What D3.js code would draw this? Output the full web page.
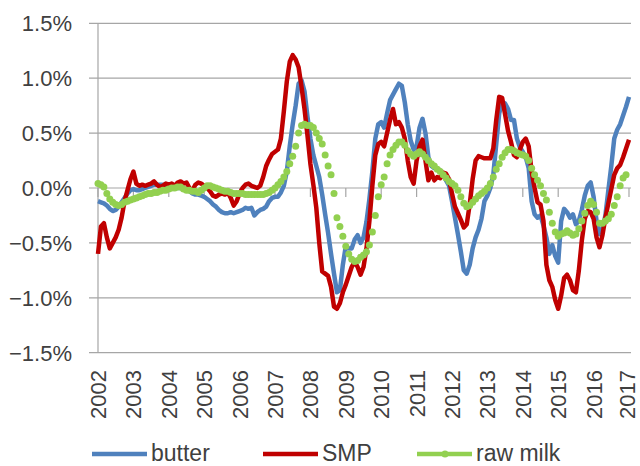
<!DOCTYPE html>
<html><head><meta charset="utf-8">
<script src="https://cdn.jsdelivr.net/npm/d3@7"></script>
<style>html,body{margin:0;padding:0;background:#fff;}svg{display:block;font-family:"Liberation Sans",Arial,sans-serif;}</style>
</head><body><svg id="c" width="640" height="466"></svg>
<script>
const yearLabels = ["2002","2003","2004","2005","2006","2007","2008","2009","2010","2011","2012","2013","2014","2015","2016","2017"];
const yTicks = [-1.5,-1.0,-0.5,0.0,0.5,1.0,1.5];
const seriesNames = ["butter","SMP","raw milk"];
const butter = [
-0.12,-0.13,-0.14,-0.16,-0.19,-0.21,-0.20,-0.17,-0.13,-0.09,-0.05,-0.02,
-0.01,-0.02,-0.02,-0.01,0.00,0.01,0.02,0.03,0.03,0.03,0.03,0.02,
0.02,0.02,0.01,0.00,0.00,-0.01,-0.01,-0.03,-0.05,-0.06,-0.06,-0.07,
-0.08,-0.10,-0.12,-0.15,-0.17,-0.20,-0.22,-0.23,-0.23,-0.22,-0.23,-0.22,
-0.21,-0.20,-0.18,-0.19,-0.18,-0.25,-0.22,-0.20,-0.19,-0.17,-0.12,-0.09,
-0.08,-0.08,-0.04,0.02,0.15,0.38,0.58,0.75,0.95,0.98,0.88,0.65,
0.45,0.30,0.20,0.10,-0.06,-0.24,-0.41,-0.60,-0.78,-0.95,-0.93,-0.70,
-0.53,-0.55,-0.55,-0.47,-0.43,-0.50,-0.45,-0.31,-0.10,0.15,0.45,0.58,
0.60,0.55,0.68,0.80,0.85,0.90,0.95,0.93,0.78,0.58,0.43,0.35,
0.38,0.55,0.63,0.50,0.28,0.20,0.18,0.18,0.16,0.12,0.07,0.02,
-0.12,-0.27,-0.42,-0.58,-0.75,-0.78,-0.70,-0.55,-0.45,-0.38,-0.28,-0.12,
-0.07,0.00,0.12,0.40,0.68,0.78,0.77,0.72,0.62,0.62,0.45,0.37,
0.33,0.28,0.18,-0.12,-0.24,-0.27,-0.25,-0.34,-0.45,-0.60,-0.52,-0.62,
-0.68,-0.30,-0.19,-0.22,-0.27,-0.24,-0.33,-0.30,-0.20,-0.07,0.02,0.05,
-0.08,-0.30,-0.42,-0.37,-0.25,-0.02,0.20,0.45,0.53,0.58,0.66,0.74,
0.83];
const smp = [
-0.60,-0.35,-0.32,-0.45,-0.55,-0.50,-0.45,-0.38,-0.27,-0.12,-0.02,0.08,
0.15,0.04,0.02,0.03,0.02,0.03,0.04,0.06,0.03,0.01,0.02,0.04,
0.03,0.04,0.02,0.05,0.06,0.04,0.05,0.00,-0.02,0.03,0.05,0.04,
0.02,0.00,-0.03,-0.07,-0.08,-0.06,-0.05,-0.06,-0.04,-0.09,-0.16,-0.12,
-0.05,0.00,0.03,0.04,0.02,0.01,0.00,0.02,0.10,0.20,0.26,0.31,
0.33,0.35,0.45,0.70,0.97,1.15,1.21,1.17,1.10,0.92,0.72,0.48,
0.22,0.03,-0.18,-0.50,-0.76,-0.78,-0.80,-0.90,-1.08,-1.10,-1.05,-0.95,
-0.88,-0.80,-0.72,-0.67,-0.72,-0.79,-0.72,-0.55,-0.30,0.02,0.30,0.40,
0.42,0.38,0.50,0.62,0.72,0.58,0.60,0.55,0.45,0.25,0.10,0.04,
0.25,0.38,0.44,0.25,0.07,0.14,0.07,0.10,0.09,0.14,0.13,0.08,
-0.05,-0.17,-0.23,-0.29,-0.36,-0.33,-0.15,0.08,0.25,0.29,0.28,0.27,
0.27,0.27,0.36,0.62,0.83,0.82,0.67,0.52,0.42,0.30,0.28,0.35,
0.42,0.45,0.38,0.15,0.00,-0.13,-0.15,-0.30,-0.70,-0.84,-0.90,-1.02,
-1.10,-0.98,-0.82,-0.79,-0.84,-0.93,-0.95,-0.75,-0.48,-0.28,-0.21,-0.22,
-0.28,-0.45,-0.54,-0.43,-0.27,-0.14,-0.01,0.12,0.18,0.21,0.28,0.36,
0.44];
const rawMilk = [
0.04,0.03,0.01,-0.05,-0.10,-0.13,-0.15,-0.16,-0.15,-0.13,-0.12,-0.11,
-0.10,-0.09,-0.08,-0.07,-0.06,-0.05,-0.05,-0.04,-0.04,-0.03,-0.02,-0.02,
-0.01,0.00,0.00,0.01,0.01,-0.01,-0.02,-0.02,-0.03,-0.03,-0.04,-0.02,
0.00,0.02,0.02,0.01,0.00,-0.01,-0.02,-0.03,-0.03,-0.04,-0.05,-0.05,
-0.05,-0.05,-0.06,-0.06,-0.06,-0.06,-0.06,-0.06,-0.06,-0.05,-0.04,-0.02,
0.00,0.03,0.06,0.10,0.15,0.22,0.29,0.38,0.50,0.57,0.58,0.57,
0.57,0.55,0.50,0.45,0.40,0.30,0.20,0.12,-0.05,-0.27,-0.35,-0.44,
-0.53,-0.60,-0.65,-0.67,-0.66,-0.63,-0.61,-0.58,-0.52,-0.40,-0.25,-0.08,
0.03,0.10,0.22,0.30,0.35,0.39,0.42,0.42,0.39,0.34,0.31,0.29,
0.31,0.33,0.31,0.28,0.25,0.22,0.20,0.17,0.15,0.12,0.09,0.06,
0.04,0.02,-0.02,-0.08,-0.14,-0.17,-0.16,-0.13,-0.10,-0.07,-0.05,-0.03,
0.00,0.04,0.10,0.17,0.22,0.28,0.32,0.35,0.35,0.34,0.32,0.31,
0.30,0.29,0.25,0.18,0.12,0.07,0.02,-0.05,-0.11,-0.22,-0.32,-0.40,
-0.44,-0.42,-0.41,-0.39,-0.41,-0.43,-0.42,-0.37,-0.30,-0.23,-0.16,-0.12,
-0.15,-0.22,-0.32,-0.32,-0.30,-0.28,-0.24,-0.16,-0.08,0.02,0.09,0.12];

const colors = {butter:"#4F81BD", smp:"#C00000", milk:"#92D050"};
const svg = d3.select("#c");
const x = d3.scaleLinear().domain([2002, 2017]).range([98, 629]);
const y = d3.scaleLinear().domain([-1.5, 1.5]).range([352.7, 23.3]);
const tOf = i => 2002 + i / 12;
const textCol = "#404040", gridCol = "#A6A6A6";

svg.append("g").selectAll("line").data(yTicks).join("line")
  .attr("x1", 89).attr("x2", 631)
  .attr("y1", d => y(d)).attr("y2", d => y(d))
  .attr("stroke", gridCol).attr("stroke-width", 1.2);
svg.append("line").attr("x1", x(2002)).attr("x2", x(2002))
  .attr("y1", y(1.5)).attr("y2", y(-1.5)).attr("stroke", gridCol).attr("stroke-width", 1.2);
svg.append("g").selectAll("line").data(yearLabels).join("line")
  .attr("x1", d => x(+d)).attr("x2", d => x(+d))
  .attr("y1", y(0)).attr("y2", y(0) + 9)
  .attr("stroke", gridCol).attr("stroke-width", 1.2);

svg.append("g").selectAll("text").data(yTicks).join("text")
  .attr("x", 72).attr("y", d => y(d)).attr("dy", "0.36em")
  .attr("text-anchor", "end").attr("font-size", 22).attr("fill", textCol)
  .text(d => d3.format(".1f")(d) + "%");
svg.append("g").selectAll("text").data(yearLabels).join("text")
  .attr("transform", d => `translate(${Math.min(x(+d), 627)},370) rotate(-90)`)
  .attr("dy", "0.36em").attr("text-anchor", "end")
  .attr("font-size", 22).attr("fill", textCol).text(d => d);

const line = d3.line().x((d, i) => x(tOf(i))).y(d => y(d));
svg.append("path").datum(butter).attr("d", line).attr("fill", "none")
  .attr("stroke", colors.butter).attr("stroke-width", 4.5).attr("stroke-linejoin", "round");
svg.append("path").datum(smp).attr("d", line).attr("fill", "none")
  .attr("stroke", colors.smp).attr("stroke-width", 4.5).attr("stroke-linejoin", "round");
svg.append("g").selectAll("circle").data(rawMilk).join("circle")
  .attr("cx", (d, i) => x(tOf(i))).attr("cy", d => y(d)).attr("r", 3.5)
  .attr("fill", colors.milk);

const leg = [
  {name: seriesNames[0], c: colors.butter, x0: 92, dot: false},
  {name: seriesNames[1], c: colors.smp, x0: 263, dot: false},
  {name: seriesNames[2], c: colors.milk, x0: 417, dot: true}
];
const lg = svg.append("g").selectAll("g").data(leg).join("g");
lg.append("line").attr("x1", d => d.x0).attr("x2", d => d.x0 + 55)
  .attr("y1", 454).attr("y2", 454).attr("stroke", d => d.c).attr("stroke-width", 4.5);
lg.filter(d => d.dot).append("circle").attr("cx", d => d.x0 + 28).attr("cy", 454).attr("r", 3.5).attr("fill", d => d.c);
lg.append("text").attr("x", d => d.x0 + 59).attr("y", 461)
  .attr("font-size", 23).attr("fill", textCol).text(d => d.name);
</script></body></html>
